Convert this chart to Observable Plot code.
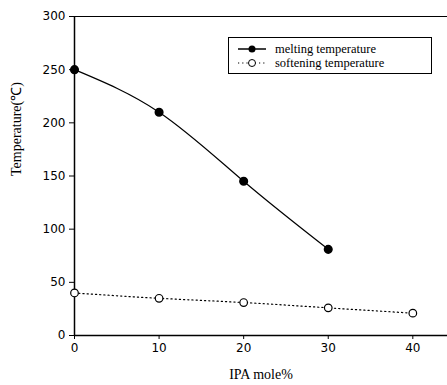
<!DOCTYPE html>
<html><head><meta charset="utf-8">
<script src="https://cdn.jsdelivr.net/npm/d3@7"></script>
<script src="https://cdn.jsdelivr.net/npm/@observablehq/plot@0.6"></script>
<style>
body{margin:0;background:#fff;}
#wrap{position:relative;width:447px;height:385px;}
#legend{position:absolute;left:228px;top:37px;width:204px;height:37px;border:1px solid #000;box-sizing:border-box;background:#fff;font-family:"Liberation Serif",serif;font-size:12.5px;}
#legend .row{position:absolute;left:8px;height:14px;display:flex;align-items:center;}
#legend svg{margin-right:8px;}
</style>
</head><body>
<div id="wrap"></div>
<script>
const ipa = [0, 10, 20, 30];
const melting = [250, 210, 145, 81];
const ipaSoft = [0, 10, 20, 30, 40];
const softening = [40, 35, 31, 26, 21];
const xTicks = [0, 10, 20, 30, 40];
const yTicks = [0, 50, 100, 150, 200, 250, 300];
const legendLabels = ["melting temperature", "softening temperature"];

const mData = ipa.map((x, i) => ({x, y: melting[i]}));
const sData = ipaSoft.map((x, i) => ({x, y: softening[i]}));

const plot = Plot.plot({
  width: 447, height: 385,
  marginLeft: 74, marginTop: 16, marginBottom: 50, marginRight: 0,
  style: {fontFamily: "DejaVu Sans, sans-serif", fontSize: "12px", color: "#000", background: "#fff"},
  x: {domain: [0, 44.1], ticks: xTicks, tickSize: 4, tickPadding: 4, label: null},
  y: {domain: [0, 300], ticks: yTicks, tickSize: 5, tickPadding: 4, label: null},
  marks: [
    Plot.ruleY([300], {stroke: "#000", strokeWidth: 1}),
    Plot.ruleY([0], {stroke: "#000", strokeWidth: 1.5}),
    Plot.ruleX([0], {stroke: "#000", strokeWidth: 1.5}),
    Plot.line(sData, {x: "x", y: "y", curve: "natural", stroke: "#000", strokeWidth: 1.2, strokeDasharray: "1.2,3"}),
    Plot.line(mData, {x: "x", y: "y", curve: "natural", stroke: "#000", strokeWidth: 1.2}),
    Plot.dot(sData, {x: "x", y: "y", r: 3.8, fill: "#fff", stroke: "#000", strokeWidth: 1.2}),
    Plot.dot(mData, {x: "x", y: "y", r: 3.8, fill: "#000", stroke: "#000"}),
    Plot.text(["IPA mole%"], {frameAnchor: "bottom", dy: 43, fontFamily: "Liberation Serif, serif", fontSize: 14}),
    Plot.text(["Temperature(℃)"], {frameAnchor: "left", dx: -58, rotate: -90, fontFamily: "Liberation Serif, serif", fontSize: 14})
  ]
});
const wrap = document.getElementById("wrap");
wrap.appendChild(plot);
const leg = document.createElement("div");
leg.id = "legend";
const samples = [
  `<svg width="30" height="10"><line x1="1" x2="29" y1="5" y2="5" stroke="#000" stroke-width="1.5"/><circle cx="15" cy="5" r="3.5" fill="#000"/></svg>`,
  `<svg width="30" height="10"><line x1="1" x2="29" y1="5" y2="5" stroke="#000" stroke-width="1.2" stroke-dasharray="1.2,3"/><circle cx="15" cy="5" r="3.5" fill="#fff" stroke="#000"/></svg>`
];
legendLabels.forEach((t, i) => {
  const r = document.createElement("div");
  r.className = "row";
  r.style.top = (7 + i * 14 - 3) + "px";
  r.innerHTML = samples[i] + `<span>${t}</span>`;
  leg.appendChild(r);
});
wrap.appendChild(leg);
</script>
</body></html>
